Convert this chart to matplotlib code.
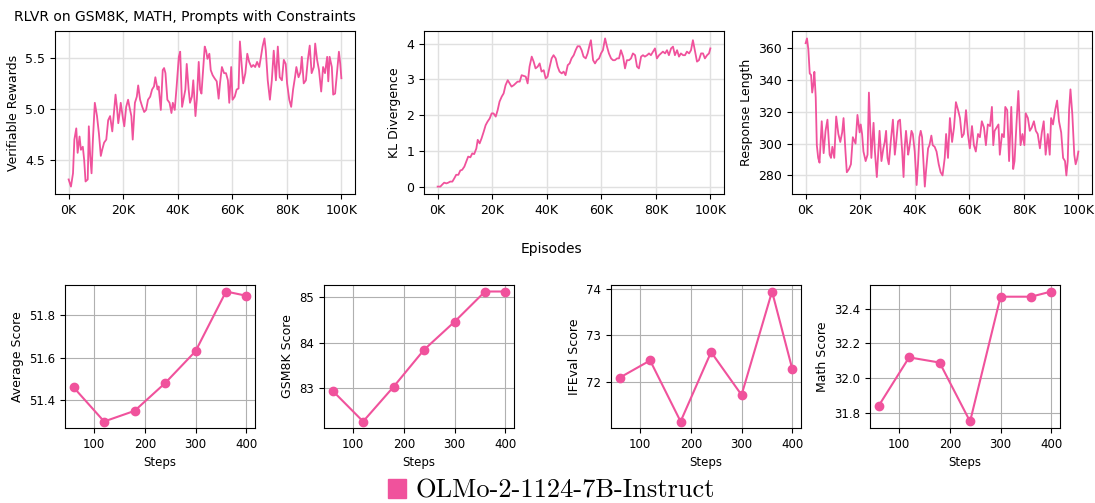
import matplotlib
matplotlib.use("Agg")
import matplotlib.pyplot as plt
from matplotlib.patches import Patch
from matplotlib.ticker import FuncFormatter

PINK = "#F0529C"

# Top row: training curves (episodes in thousands)
reward_episodes = [0, 0.85, 1.6, 2.1, 2.8, 3.3, 4.0, 4.5, 5.2, 5.7, 6.2, 7.0, 7.4, 7.9, 8.4, 8.9,
                   9.6, 10.4, 11.1, 11.8, 12.3, 13.0, 13.8, 14.5, 15.2, 16.0, 16.7, 17.2, 17.7,
                   18.2, 18.7, 19.1, 19.9, 20.4, 21.1, 21.8, 22.3, 23.0, 23.5, 24.3, 25.0, 25.5,
                   26.2, 27.0, 27.7, 28.4, 29.1, 29.9, 30.6, 31.3, 31.8, 32.6, 33.0, 33.8, 34.5,
                   35.0, 35.5, 36.2, 37.0, 37.7, 38.2, 38.9, 39.6, 40.4, 40.9, 41.6, 42.3, 42.8,
                   43.3, 44.0, 44.5, 45.2, 45.7, 46.5, 47.0, 47.7, 48.2, 48.7, 49.4, 49.9, 50.4,
                   50.9, 51.6, 52.1, 52.8, 53.5, 54.3, 55.0, 55.5, 56.2, 57.0, 57.7, 58.4, 58.9,
                   59.6, 60.1, 60.9, 61.6, 62.3, 62.8, 63.5, 64.0, 64.8, 65.5, 66.2, 67.0, 67.7,
                   68.4, 69.1, 69.9, 70.4, 71.1, 71.8, 72.3, 73.0, 73.8, 74.5, 75.2, 76.0, 76.7,
                   77.4, 78.2, 78.9, 79.6, 80.1, 80.9, 81.6, 82.3, 83.0, 83.5, 84.3, 85.0, 85.5,
                   86.2, 87.0, 87.7, 88.4, 89.1, 89.9, 90.4, 91.1, 91.8, 92.6, 93.3, 94.0, 94.8,
                   95.2, 95.7, 96.5, 97.0, 97.7, 98.4, 99.1, 99.6, 100.0]
rewards = [4.31, 4.24, 4.37, 4.70, 4.81, 4.57, 4.73, 4.60, 4.63, 4.50, 4.29, 4.31, 4.83, 4.54,
           4.37, 4.70, 5.06, 4.93, 4.76, 4.54, 4.60, 4.67, 4.70, 4.89, 4.93, 4.78, 4.99, 5.14,
           5.02, 4.86, 4.96, 5.06, 4.91, 4.83, 5.02, 5.09, 5.02, 4.93, 4.70, 5.06, 5.12, 5.23,
           5.09, 5.02, 4.97, 4.99, 5.09, 5.12, 5.19, 5.22, 5.31, 5.19, 5.22, 4.99, 5.38, 5.40,
           5.35, 5.09, 5.06, 4.96, 5.06, 4.99, 5.22, 5.51, 5.56, 5.02, 5.12, 5.19, 5.44, 5.19,
           5.06, 5.12, 5.28, 4.93, 5.09, 5.46, 5.19, 5.15, 5.41, 5.61, 5.57, 5.49, 5.54, 5.38,
           5.33, 5.30, 5.27, 5.10, 5.25, 5.41, 5.35, 5.35, 5.28, 5.06, 5.41, 5.09, 5.12, 5.19,
           5.20, 5.66, 5.41, 5.25, 5.35, 5.54, 5.46, 5.41, 5.43, 5.41, 5.46, 5.41, 5.49, 5.61,
           5.69, 5.57, 5.28, 5.09, 5.28, 5.57, 5.28, 5.61, 5.31, 5.28, 5.48, 5.44, 5.25, 5.09,
           5.02, 5.19, 5.31, 5.41, 5.31, 5.36, 5.51, 5.25, 5.28, 5.48, 5.62, 5.35, 5.41, 5.64,
           5.48, 5.38, 5.17, 5.41, 5.35, 5.51, 5.27, 5.51, 5.41, 5.14, 5.15, 5.35, 5.56, 5.44,
           5.30]

kl_episodes = [0, 1.0, 1.6, 2.4, 3.2, 3.9, 4.6, 5.4, 6.1, 6.8, 7.6, 8.3, 9.0, 9.8, 10.5, 11.2,
               12.0, 12.7, 13.4, 14.2, 14.7, 15.4, 16.1, 16.9, 17.6, 18.3, 19.1, 19.8, 20.5,
               21.3, 22.0, 22.7, 23.5, 24.2, 24.9, 25.7, 26.4, 27.1, 27.9, 28.6, 29.3, 30.1,
               30.8, 31.5, 32.3, 33.0, 33.7, 34.5, 35.2, 35.9, 36.7, 37.4, 38.1, 38.9, 39.6,
               40.3, 41.1, 41.8, 42.5, 43.3, 44.0, 44.7, 45.5, 46.2, 46.9, 47.7, 48.4, 49.1,
               49.9, 50.6, 51.3, 52.1, 52.8, 53.5, 54.3, 55.0, 55.7, 56.2, 57.0, 57.7, 58.4,
               59.2, 59.9, 60.6, 61.4, 62.1, 62.8, 63.6, 64.3, 65.0, 65.8, 66.5, 67.2, 68.0,
               68.7, 69.4, 70.2, 70.9, 71.6, 72.4, 73.1, 73.8, 74.6, 75.3, 76.0, 76.8, 77.5,
               78.2, 79.0, 79.7, 80.4, 81.2, 81.9, 82.6, 83.4, 84.1, 84.8, 85.6, 86.3, 87.0,
               87.8, 88.5, 89.2, 90.0, 90.7, 91.4, 92.2, 92.9, 93.6, 94.4, 95.1, 95.8, 96.6,
               97.3, 98.0, 98.8, 99.5, 100.0]
kl_div = [0.0, 0.0, 0.05, 0.11, 0.09, 0.11, 0.14, 0.14, 0.23, 0.33, 0.33, 0.45, 0.47, 0.56,
          0.70, 0.84, 0.82, 0.93, 0.91, 1.07, 1.31, 1.21, 1.35, 1.54, 1.72, 1.82, 1.91, 2.05,
          2.05, 1.96, 2.14, 2.38, 2.52, 2.61, 2.84, 2.98, 2.89, 2.80, 2.84, 2.89, 2.94, 2.94,
          3.12, 3.10, 3.08, 2.89, 3.36, 3.64, 3.50, 3.31, 3.36, 3.45, 3.22, 3.26, 3.03, 3.08,
          3.36, 3.59, 3.68, 3.59, 3.36, 3.22, 3.17, 3.22, 3.12, 3.40, 3.45, 3.59, 3.68, 3.82,
          3.93, 3.93, 3.82, 3.64, 3.59, 3.73, 3.96, 4.10, 3.54, 3.45, 3.54, 3.59, 3.73, 3.82,
          4.15, 3.92, 3.73, 3.59, 3.54, 3.54, 3.59, 3.59, 3.82, 3.64, 3.31, 3.54, 3.54, 3.59,
          3.73, 3.68, 3.36, 3.31, 3.64, 3.68, 3.64, 3.68, 3.73, 3.68, 3.78, 3.87, 3.59, 3.68,
          3.73, 3.78, 3.73, 3.82, 3.68, 3.87, 3.92, 3.68, 3.82, 3.64, 3.73, 3.68, 3.68, 3.78,
          3.73, 3.82, 4.10, 3.78, 3.50, 3.54, 3.73, 3.73, 3.59, 3.68, 3.73, 3.87]

length_episodes = [0, 0.5, 1.0, 1.5, 2.0, 2.4, 2.9, 3.2, 3.7, 4.1, 4.6, 5.1, 5.9, 6.6, 7.3, 8.0,
                   8.8, 9.3, 9.8, 10.5, 11.2, 12.0, 12.7, 13.4, 13.9, 14.6, 15.1, 15.9, 16.6,
                   17.3, 17.8, 18.3, 19.0, 19.8, 20.2, 20.7, 21.2, 22.0, 22.7, 23.2, 23.7, 24.1,
                   24.9, 25.4, 26.1, 26.6, 27.1, 27.8, 28.5, 29.0, 29.5, 30.0, 30.5, 31.2, 32.0,
                   32.7, 33.2, 33.9, 34.6, 35.4, 35.9, 36.3, 36.8, 37.6, 38.0, 38.8, 39.3, 40.0,
                   40.7, 41.2, 41.7, 42.2, 42.7, 43.2, 43.7, 44.1, 44.9, 45.4, 46.1, 46.6, 47.3,
                   48.0, 48.8, 49.5, 50.2, 51.0, 51.5, 52.2, 52.9, 53.7, 54.4, 55.1, 55.9, 56.6,
                   57.3, 58.0, 58.8, 59.5, 60.2, 61.0, 61.7, 62.4, 63.2, 63.9, 64.6, 65.4, 66.1,
                   66.8, 67.6, 68.3, 68.8, 69.3, 70.0, 70.7, 71.2, 72.0, 72.7, 73.2, 73.9, 74.6,
                   75.4, 76.1, 76.6, 77.3, 78.0, 78.8, 79.5, 80.2, 80.7, 81.5, 82.2, 82.9, 83.7,
                   84.4, 85.1, 85.9, 86.6, 87.3, 88.0, 88.8, 89.5, 90.0, 90.7, 91.5, 92.2, 92.9,
                   93.7, 94.4, 95.1, 95.6, 96.1, 96.6, 97.1, 97.8, 98.5, 99.0, 99.5, 100.0]
resp_length = [363, 366, 359, 344, 343, 332, 338, 345, 329, 299, 291, 288, 314, 294, 308, 315,
               293, 291, 298, 291, 317, 306, 301, 307, 316, 295, 282, 284, 287, 304, 302, 300,
               318, 307, 312, 306, 295, 289, 293, 332, 310, 291, 313, 295, 279, 293, 308, 289,
               297, 301, 308, 291, 287, 301, 315, 293, 301, 314, 315, 295, 279, 297, 308, 293,
               297, 308, 306, 295, 274, 287, 304, 308, 304, 289, 273, 282, 297, 299, 305, 299,
               298, 295, 287, 282, 280, 291, 306, 291, 316, 301, 310, 326, 321, 316, 304, 306,
               321, 306, 297, 311, 299, 295, 306, 304, 314, 310, 299, 312, 311, 323, 299, 308,
               310, 312, 293, 306, 304, 323, 321, 289, 323, 284, 289, 312, 333, 299, 306, 299,
               319, 316, 308, 310, 314, 308, 306, 297, 307, 314, 293, 306, 293, 316, 312, 321,
               327, 314, 307, 291, 289, 280, 289, 321, 334, 318, 293, 287, 290, 295]

# Bottom row: evaluation scores
steps = [60, 120, 180, 240, 300, 360, 400]
avg_score = [51.46, 51.30, 51.35, 51.48, 51.63, 51.91, 51.89]
gsm8k_score = [82.93, 82.25, 83.02, 83.84, 84.46, 85.13, 85.13]
ifeval_score = [72.09, 72.46, 71.15, 72.64, 71.72, 73.94, 72.27]
math_score = [31.84, 32.12, 32.09, 31.75, 32.47, 32.47, 32.50]

W, H = 1095, 503
fig = plt.figure(figsize=(W / 100, H / 100), dpi=100)


def box(x0, x1, y0, y1):
    # pixel box -> figure fraction
    return [x0 / W, 1 - y1 / H, (x1 - x0) / W, (y1 - y0) / H]


top = [
    (box(55, 355, 31, 194), reward_episodes, rewards, "Verifiable Rewards", [4.5, 5.0, 5.5]),
    (box(424, 724, 31, 194), kl_episodes, kl_div, "KL Divergence", [0, 1, 2, 3, 4]),
    (box(792, 1092, 31, 194), length_episodes, resp_length, "Response Length",
     [280, 300, 320, 340, 360]),
]
for rect, xs, ys, label, yt in top:
    ax = fig.add_axes(rect)
    ax.plot(xs, ys, color=PINK, lw=1.3)
    ax.set_xticks([0, 20, 40, 60, 80, 100])
    ax.xaxis.set_major_formatter(FuncFormatter(lambda v, p: f"{int(v)}K"))
    ax.set_yticks(yt)
    ax.set_ylabel(label, fontsize=9)
    ax.tick_params(labelsize=9)
    ax.grid(True, color="#e0e0e0", lw=1)
    ax.set_axisbelow(True)

fig.text(14 / W, 1 - 17 / H, "RLVR on GSM8K, MATH, Prompts with Constraints",
         fontsize=10, va="center", ha="left")
fig.text(551 / W, 1 - 249 / H, "Episodes", fontsize=10, ha="center", va="center")

bottom = [
    (box(65, 255, 285, 428), avg_score, "Average Score", [51.4, 51.6, 51.8], "{:.1f}"),
    (box(324, 514, 285, 428), gsm8k_score, "GSM8K Score", [83, 84, 85], "{:.0f}"),
    (box(611, 801, 285, 428), ifeval_score, "IFEval Score", [72, 73, 74], "{:.0f}"),
    (box(870, 1060, 285, 428), math_score, "Math Score", [31.8, 32.0, 32.2, 32.4], "{:.1f}"),
]
for rect, ys, label, yt, fmt in bottom:
    ax = fig.add_axes(rect)
    ax.plot(steps, ys, color=PINK, lw=1.5, marker="o", ms=6)
    ax.set_xticks([100, 200, 300, 400])
    ax.set_yticks(yt)
    ax.set_yticklabels([fmt.format(v) for v in yt])
    ax.set_xlabel("Steps", fontsize=8.5)
    ax.set_ylabel(label, fontsize=9)
    ax.tick_params(labelsize=8.5)
    ax.grid(True, color="#b0b0b0", lw=0.8)
    ax.set_axisbelow(True)

fig.legend(handles=[Patch(color=PINK, label="OLMo-2-1124-7B-Instruct")],
           loc="center", bbox_to_anchor=(551.5 / W, 1 - 491 / H), frameon=False,
           prop={"family": ["cmr10", "DejaVu Serif"], "size": 19},
           handlelength=0.7, handleheight=0.7, handletextpad=0.35, borderpad=0)

fig.savefig("out.png", dpi=100)
